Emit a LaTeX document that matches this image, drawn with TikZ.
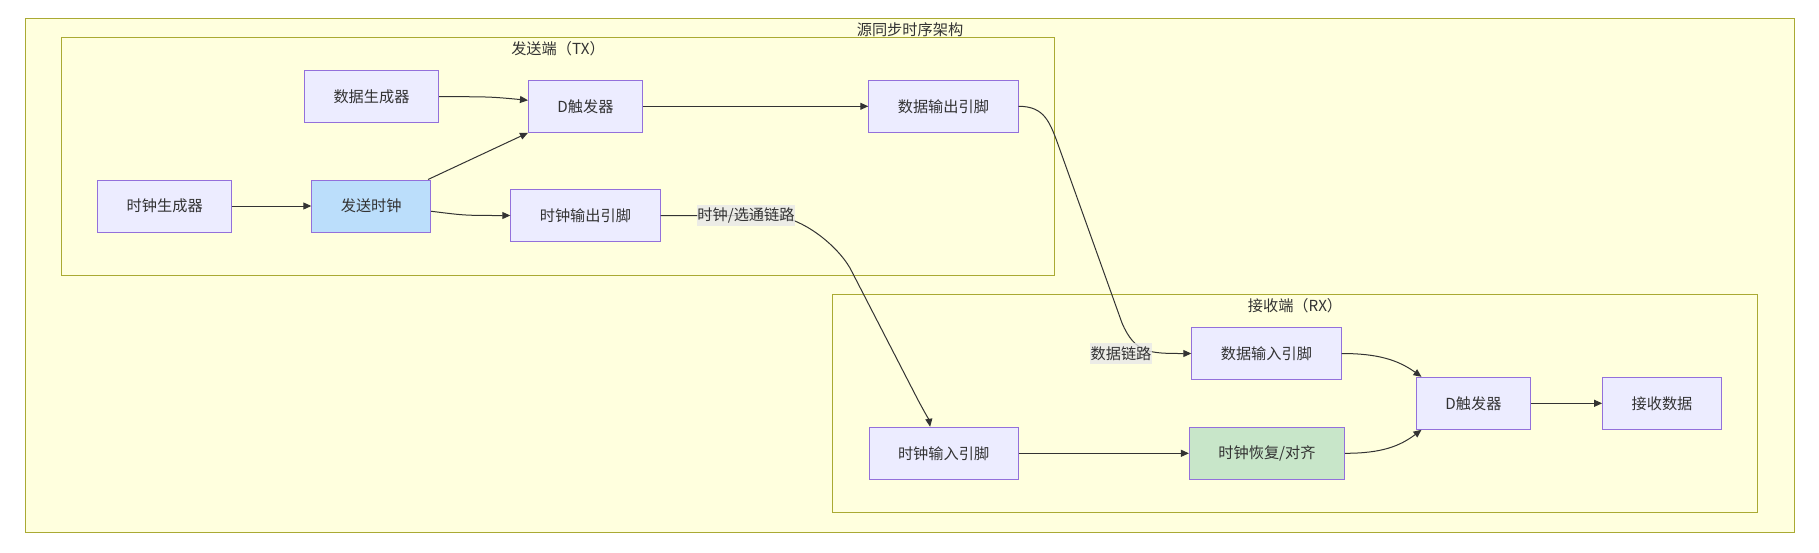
\documentclass[tikz,border=0pt]{standalone}
\usepackage{fontspec}
\setmainfont{Noto Sans CJK SC}
\usetikzlibrary{arrows.meta}
\definecolor{boxfill}{HTML}{ECECFF}
\definecolor{boxline}{HTML}{9370DB}
\definecolor{grpfill}{HTML}{FFFFDE}
\definecolor{grpline}{HTML}{AAAA33}
\definecolor{edgecol}{HTML}{333333}
\definecolor{tagfill}{HTML}{E8E8E8}
\definecolor{clkfill}{HTML}{BBDEFB}
\definecolor{recfill}{HTML}{C8E6C9}
\begin{document}
\begin{tikzpicture}[x=1pt,y=-1pt,
  box/.style={draw=boxline, fill=boxfill, line width=1pt, minimum height=52pt, inner xsep=29pt, text=edgecol, font=\fontsize{15.2}{18}\selectfont},
  group/.style={draw=grpline, fill=grpfill, line width=1pt},
  title/.style={text=edgecol, inner sep=0pt, font=\fontsize{15.2}{18}\selectfont},
  tag/.style={fill=tagfill, fill opacity=0.8, text opacity=1, text=edgecol, inner xsep=0.5pt, inner ysep=3pt, font=\fontsize{15.2}{18}\selectfont},
  edge/.style={draw=edgecol, line width=1pt, -{Triangle[length=8pt,width=7pt]}}]
\useasboundingbox (0,0) rectangle (1819,552);

% groups
\draw[group] (25.4,18) rectangle (1794,532);
\node[title] (top) at (910,29.5) {源同步时序架构};
\draw[group] (61.6,37.3) rectangle (1054.6,275);
\node[title] (tx) at (558,48.5) {发送端（TX）};
\draw[group] (832.5,294.3) rectangle (1757.8,512.7);
\node[title] (rx) at (1295,305.5) {接收端（RX）};

% sender
\node[box] (gen) at (371.5,96.7) {数据生成器};
\node[box] (dff) at (585.5,106.3) {D触发器};
\node[box] (dout) at (943.4,106.3) {数据输出引脚};
\node[box] (cgen) at (164.7,206) {时钟生成器};
\node[box, fill=clkfill] (send) at (371.2,206) {发送时钟};
\node[box] (cout) at (585.4,215.5) {时钟输出引脚};

% receiver
\node[box] (din) at (1266.4,353.5) {数据输入引脚};
\node[box] (dffr) at (1473.5,403.3) {D触发器};
\node[box] (rdata) at (1662,403.3) {接收数据};
\node[box] (cin) at (943.6,453.3) {时钟输入引脚};
\node[box, fill=recfill] (crec) at (1267,453.3) {时钟恢复/对齐};

\path[edge] (cgen) -- (send);
\path[edge] (send.25) -- (dff.south west);
\path[edge] (send.-5) .. controls (465,215.5) .. (cout.west);
\path[edge] (gen.east) .. controls (490,96.7) .. (dff.174);
\path[edge] (dff) -- (dout);
\path[edge] (dout.east) .. controls (1045,106.3) and (1050,122) .. (1060,150) -- (1122,323) .. controls (1135,353.5) and (1150,353.5) .. (din.west);
\path[edge] (cout.east) -- (770,215.5) .. controls (800,215.5) and (836,244) .. (850,268) -- (918,400) .. controls (925,413) and (929,420) .. (cin.117);
\path[edge] (cin) -- (crec);
\path[edge] (din.east) .. controls (1378,353.5) and (1398,360) .. (dffr.153);
\path[edge] (crec.east) .. controls (1382,453.3) and (1400,446) .. (dffr.207);
\path[edge] (dffr) -- (rdata);

\node[tag] (clab) at (746,215.5) {时钟/选通链路};
\node[tag] (dlab) at (1121,353.5) {数据链路};
\end{tikzpicture}
\end{document}
